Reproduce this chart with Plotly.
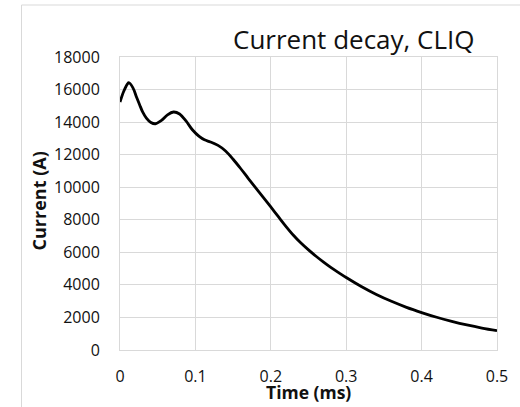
import plotly.graph_objects as go

# Coil current during a CLIQ discharge
time_ms = [0.0, 0.005, 0.01, 0.0116, 0.017, 0.022, 0.026, 0.030, 0.035, 0.041, 0.047,
           0.055, 0.063, 0.071, 0.079, 0.088, 0.096, 0.105, 0.112, 0.12, 0.13, 0.14,
           0.15, 0.16, 0.17, 0.18, 0.19, 0.2, 0.21, 0.22, 0.23, 0.24, 0.25, 0.26,
           0.27, 0.28, 0.29, 0.3, 0.32, 0.34, 0.36, 0.38, 0.4, 0.42, 0.44, 0.46,
           0.48, 0.5]
current_a = [15230, 15900, 16350, 16420, 16120, 15530, 15070, 14630, 14250, 13980, 13900,
             14100, 14450, 14620, 14500, 14040, 13530, 13120, 12910, 12780, 12570, 12230,
             11720, 11150, 10550, 9960, 9380, 8790, 8190, 7600, 7050, 6570, 6150, 5760,
             5400, 5060, 4750, 4450, 3900, 3410, 2990, 2620, 2300, 2010, 1760, 1540,
             1350, 1190]

x_ticks = [0, 0.1, 0.2, 0.3, 0.4, 0.5]
x_tick_text = ["0", "0.1", "0.2", "0.3", "0.4", "0.5"]
y_ticks = list(range(0, 18001, 2000))
y_tick_text = [str(v) for v in y_ticks]

title_text = "Current decay, CLIQ"
x_title = "Time (ms)"
y_title = "Current (A)"

grid = "#d9d9d9"
font = "Open Sans"
ink = "#111111"

fig = go.Figure(
    go.Scatter(
        x=time_ms, y=current_a, mode="lines",
        line=dict(color="black", width=2.8, shape="spline", smoothing=1.0),
        hoverinfo="skip",
    )
)

W, H = 520, 407
ml, mr, mt, mb = 120, 21, 57, 57
pw = W - ml - mr
ph = H - mt - mb

def px_x(p):
    return (p - ml) / pw

def px_y(p):
    return (H - mb - p) / ph

fig.update_layout(
    width=W, height=H,
    margin=dict(l=ml, r=mr, t=mt, b=mb),
    paper_bgcolor="white", plot_bgcolor="white",
    showlegend=False,
    font=dict(family=font, color=ink),
    xaxis=dict(
        range=[0, 0.5], tickvals=x_ticks, ticktext=x_tick_text,
        showgrid=True, gridcolor=grid, gridwidth=1,
        showline=True, linecolor=grid, linewidth=1, mirror=True,
        zeroline=False, ticks="", ticklabelstandoff=12,
        tickfont=dict(size=16, family=font, color=ink),
        fixedrange=True,
    ),
    yaxis=dict(
        range=[0, 18000], tickvals=y_ticks, ticktext=y_tick_text,
        showgrid=True, gridcolor=grid, gridwidth=1,
        showline=True, linecolor=grid, linewidth=1, mirror=True,
        zeroline=False, ticks="", ticklabelstandoff=16,
        tickfont=dict(size=16, family=font, color=ink),
        fixedrange=True,
    ),
    shapes=[
        # outer chart border
        dict(type="rect", xref="paper", yref="paper",
             x0=px_x(21), x1=px_x(W + 20), y0=px_y(H + 20), y1=px_y(5),
             line=dict(color=grid, width=1), fillcolor="rgba(0,0,0,0)", layer="below"),
    ],
    annotations=[
        dict(text=title_text, xref="paper", yref="paper",
             x=px_x(355.5), y=px_y(39), xanchor="center", yanchor="middle",
             showarrow=False, font=dict(size=26, family=font, color=ink)),
        dict(text="<b>" + x_title + "</b>", xref="paper", yref="paper",
             x=px_x(310), y=px_y(392), xanchor="center", yanchor="middle",
             showarrow=False, font=dict(size=17.5, family=font, color=ink)),
        dict(text="<b>" + y_title + "</b>", xref="paper", yref="paper",
             x=px_x(39), y=px_y(201), xanchor="center", yanchor="middle",
             textangle=-90, showarrow=False,
             font=dict(size=18, family=font, color=ink)),
    ],
)

fig.write_html("out.html")
